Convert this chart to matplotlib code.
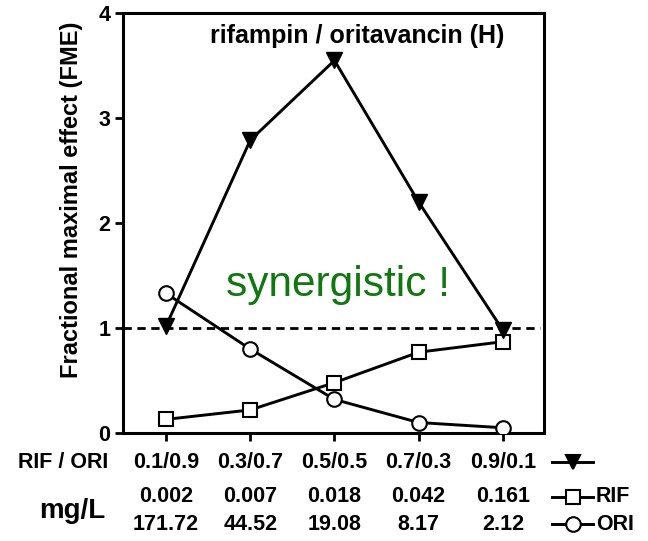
import matplotlib
matplotlib.use("Agg")
import matplotlib.pyplot as plt
from matplotlib.lines import Line2D
from matplotlib.transforms import blended_transform_factory

plt.rcParams["font.family"] = ["Liberation Sans", "DejaVu Sans"]

# data
ratios = ["0.1/0.9", "0.3/0.7", "0.5/0.5", "0.7/0.3", "0.9/0.1"]
rif_mgl = ["0.002", "0.007", "0.018", "0.042", "0.161"]
ori_mgl = ["171.72", "44.52", "19.08", "8.17", "2.12"]
fme_combo = [1.02, 2.79, 3.55, 2.20, 0.98]
fme_rif = [0.13, 0.22, 0.48, 0.77, 0.87]
fme_ori = [1.33, 0.80, 0.32, 0.10, 0.05]
y_ticks = [0, 1, 2, 3, 4]

x = list(range(len(ratios)))
fs = 15.5

fig = plt.figure(figsize=(6.48, 5.41), dpi=100)
ax = fig.add_axes([0.19, 0.1996, 0.6497, 0.776])

lw = 2.1
ms = 10.5
mew = 1.5
ax.axhline(1.0, xmin=0, xmax=0.99, color="black", lw=2, ls=(0, (3, 2)), zorder=1)
ax.plot(x, fme_ori, color="black", lw=lw, marker="o", ms=ms,
        mfc="white", mec="black", mew=mew, zorder=3)
ax.plot(x, fme_rif, color="black", lw=lw, marker="s", ms=ms,
        mfc="white", mec="black", mew=mew, zorder=3)
ax.plot(x, fme_combo, color="black", lw=lw, marker="v", ms=11.5,
        mfc="black", mec="black", zorder=4)

ax.set_xlim(-0.51, 4.49)
ax.set_ylim(0, 4)
ax.set_yticks(y_ticks)
ax.set_yticklabels([str(t) for t in y_ticks], fontsize=fs, fontweight="bold")
ax.set_xticks(x)
ax.set_xticklabels(ratios, fontsize=fs, fontweight="bold")
ax.tick_params(axis="both", direction="out", length=6, width=2, pad=3)
ax.tick_params(axis="x", pad=8)
for sp in ax.spines.values():
    sp.set_linewidth(2.2)

ax.set_ylabel("Fractional maximal effect (FME)", fontsize=17, fontweight="bold")
ax.yaxis.set_label_coords(-0.095, 0.555)

ax.text(0.555, 0.945, "rifampin / oritavancin (H)", transform=ax.transAxes,
        ha="center", va="center", fontsize=18, fontweight="bold")
ax.text(0.51, 0.352, "synergistic !", transform=ax.transAxes,
        ha="center", va="center", fontsize=30.5, color="#117711")

# rows below the axis
tr = blended_transform_factory(ax.transData, fig.transFigure)
row_ratio = 1 - 462 / 541
row_rif = 1 - 497 / 541
row_ori = 1 - 524 / 541
for xi, r, o in zip(x, rif_mgl, ori_mgl):
    ax.text(xi, row_rif, r, transform=tr, ha="center", va="center",
            fontsize=fs, fontweight="bold")
    ax.text(xi, row_ori, o, transform=tr, ha="center", va="center",
            fontsize=fs, fontweight="bold")

fig.text(63 / 648, row_ratio, "RIF / ORI", ha="center", va="center",
         fontsize=fs, fontweight="bold")
fig.text(72 / 648, (row_rif + row_ori) / 2, "mg/L", ha="center", va="center",
         fontsize=20, fontweight="bold")

# legend keys at right
kx = [552 / 648, 593 / 648]
keys = [(row_ratio, "v", "black", ""), (row_rif, "s", "white", "RIF"),
        (row_ori, "o", "white", "ORI")]
for ky, mk, fc, lab in keys:
    fig.add_artist(Line2D(kx, [ky, ky], color="black", lw=lw,
                          transform=fig.transFigure))
    fig.add_artist(Line2D([(kx[0] + kx[1]) / 2], [ky], marker=mk, ms=ms,
                          mfc=fc, mec="black", mew=mew, ls="none",
                          transform=fig.transFigure))
    if lab:
        fig.text(596 / 648, ky, lab, ha="left", va="center",
                 fontsize=fs, fontweight="bold")

fig.savefig("out.png", dpi=100)
